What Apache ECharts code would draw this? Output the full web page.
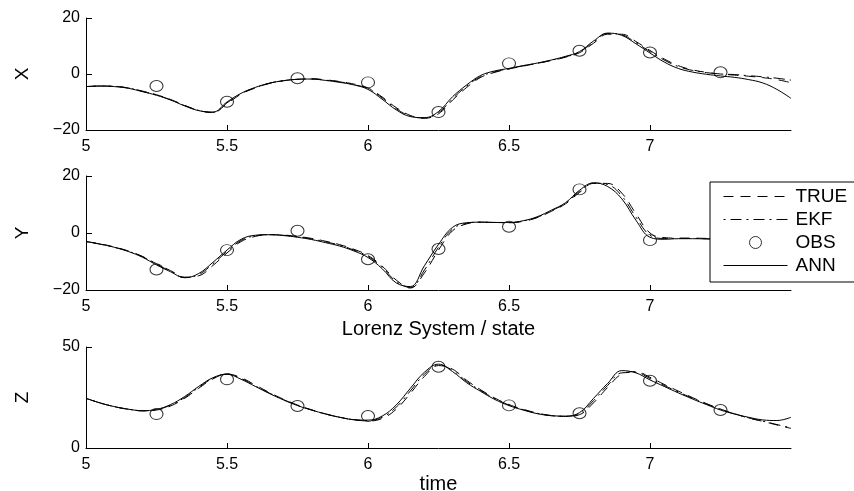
<!DOCTYPE html>
<html><head><meta charset="utf-8">
<script src="https://cdn.jsdelivr.net/npm/echarts@6/dist/echarts.min.js"></script>
<style>html,body{margin:0;padding:0;background:#fff}#c{width:854px;height:491px}</style>
</head><body><div id="c"></div>
<script>
const time = [5.00,5.05,5.10,5.15,5.20,5.25,5.30,5.35,5.40,5.45,
5.50,5.55,5.60,5.65,5.70,5.75,5.80,5.85,5.90,5.95,
6.00,6.05,6.10,6.15,6.20,6.25,6.30,6.35,6.40,6.45,
6.50,6.55,6.60,6.65,6.70,6.75,6.80,6.85,6.90,6.95,
7.00,7.05,7.10,7.15,7.20,7.25,7.30,7.35,7.40,7.45,7.50];

const xAnn = [-4.5,-4.3,-4.5,-5.1,-6.3,-7.6,-9.3,-11.4,-13.1,-13.6,
-10.0,-6.9,-4.8,-3.3,-2.4,-1.9,-1.8,-2.3,-3.0,-3.9,
-5.5,-9.0,-12.8,-15.2,-15.6,-13.4,-8.1,-3.9,-0.5,1.1,
2.0,3.0,3.9,5.0,6.3,8.0,11.8,14.6,13.8,10.8,
7.5,4.3,2.0,0.7,-0.1,-0.7,-1.2,-2.0,-3.2,-5.5,-8.7];
const xTrue = [-4.5,-4.3,-4.4,-5.0,-6.1,-7.4,-9.1,-11.2,-13.0,-13.8,
-10.6,-7.2,-5.0,-3.4,-2.4,-1.9,-1.7,-2.1,-2.7,-3.6,
-5.0,-8.2,-12.0,-14.8,-15.8,-14.2,-9.3,-4.8,-1.2,0.6,
1.8,2.8,3.8,4.8,6.0,7.6,11.0,14.2,14.2,11.6,
8.4,5.4,3.0,1.5,0.6,0.0,-0.4,-0.8,-1.3,-2.0,-3.1];
const xEkf = [-4.5,-4.3,-4.4,-5.0,-6.2,-7.5,-9.2,-11.3,-13.0,-13.7,
-10.3,-7.0,-4.9,-3.3,-2.4,-1.9,-1.8,-2.2,-2.8,-3.8,
-5.2,-8.5,-12.4,-15.0,-15.7,-13.8,-8.8,-4.3,-0.9,0.8,
1.9,2.9,3.8,4.9,6.1,7.8,11.4,14.5,14.0,11.2,
8.0,5.0,2.7,1.3,0.5,0.0,-0.2,-0.6,-1.0,-1.5,-2.2];

const yAnn = [-3.0,-3.9,-5.0,-6.5,-8.5,-11.2,-13.6,-15.7,-14.2,-10.3,
-6.0,-2.2,-0.8,-0.6,-0.9,-1.5,-2.3,-3.4,-4.6,-6.3,
-8.6,-12.5,-17.5,-18.8,-11.5,-4.0,2.0,3.6,3.8,3.7,
3.7,4.3,5.7,8.0,10.6,15.0,17.6,16.3,12.0,4.5,
-1.5,-2.2,-2.0,-2.0,-2.1,-2.3,-2.5,-2.8,-3.2,-3.7,-4.3];
const yTrue = [-3.0,-3.8,-4.9,-6.3,-8.2,-10.8,-13.2,-15.5,-15.0,-11.4,
-7.0,-3.0,-1.2,-0.6,-0.7,-1.2,-1.9,-2.9,-4.1,-5.7,
-7.9,-11.6,-16.5,-19.3,-14.0,-6.0,0.8,3.2,3.8,3.7,
3.6,4.1,5.4,7.6,10.2,14.2,17.4,17.4,14.0,6.8,
0.0,-1.6,-1.8,-1.8,-1.9,-2.0,-2.1,-2.3,-2.5,-2.8,-3.1];
const yEkf = [-3.0,-3.9,-5.0,-6.4,-8.3,-11.0,-13.4,-15.6,-14.6,-10.8,
-6.5,-2.6,-1.0,-0.6,-0.8,-1.3,-2.1,-3.1,-4.3,-6.0,
-8.2,-12.0,-17.0,-19.1,-13.0,-5.0,1.4,3.4,3.8,3.7,
3.6,4.2,5.5,7.8,10.4,14.6,17.5,17.0,13.0,5.6,
-0.8,-1.9,-1.9,-1.9,-2.0,-2.1,-2.3,-2.5,-2.8,-3.1,-3.5];

const zAnn = [24.6,22.3,20.5,19.2,18.5,19.1,21.5,25.5,30.5,34.8,
36.5,34.0,30.5,27.0,23.8,21.0,18.8,16.8,15.2,14.0,
13.8,15.8,21.3,29.5,37.5,41.5,37.8,32.3,28.0,24.0,
21.0,18.8,17.0,16.0,15.8,17.5,24.6,32.0,38.3,37.2,
33.7,30.5,27.3,24.3,21.5,18.8,16.8,15.2,13.9,13.6,15.2];
const zTrue = [24.6,22.3,20.5,19.2,18.4,18.8,20.8,24.6,29.6,34.2,
36.6,34.8,31.2,27.5,24.2,21.3,18.9,16.9,15.2,14.0,
13.4,14.6,19.2,27.0,35.4,40.8,39.0,33.5,28.8,24.7,
21.5,19.2,17.3,16.1,15.6,16.5,22.4,30.0,36.6,37.8,
35.0,31.5,28.2,25.0,22.0,19.3,17.0,14.8,13.2,11.4,9.7];
const zEkf = [24.6,22.3,20.5,19.2,18.4,19.0,21.2,25.0,30.0,34.5,
36.6,34.4,30.8,27.2,24.0,21.1,18.8,16.8,15.2,14.0,
13.6,15.2,20.2,28.2,36.5,41.2,38.4,32.9,28.4,24.4,
21.3,19.0,17.2,16.0,15.7,17.0,23.5,31.0,37.2,37.4,
34.4,31.0,27.8,24.7,21.8,19.1,16.9,14.9,13.3,11.6,10.0];

const obsTime = [5.25,5.5,5.75,6.0,6.25,6.5,6.75,7.0,7.25];
const obsX = [-4.3,-9.9,-1.5,-3.0,-13.6,3.8,8.3,7.7,0.6];
const obsY = [-12.8,-6.0,0.8,-9.2,-5.6,2.2,15.3,-2.5,-2.0];
const obsZ = [16.8,34.0,20.8,15.8,40.2,21.1,17.2,33.3,18.8];

const xTicks = [5, 5.5, 6, 6.5, 7];
const legendNames = ['TRUE', 'EKF', 'OBS', 'ANN'];
const panelNames = ['X', 'Y', 'Z'];
const xAxisNames = ['', 'Lorenz System / state', 'time'];

const FONT = "'Liberation Sans', Arial, sans-serif";
const pairs = (ts, vs) => ts.map((t, i) => [t, vs[i]]);

const grids = [
  {left: 86, right: 63, top: 18, height: 112, outerBoundsMode: 'none', containLabel: false},
  {left: 86, right: 63, top: 176, height: 114, outerBoundsMode: 'none', containLabel: false},
  {left: 86, right: 63, top: 347, height: 101, outerBoundsMode: 'none', containLabel: false}
];
const yRanges = [[-20, 20, 20], [-20, 20, 20], [0, 50, 50]];
const nameGaps = [0, 29, 26];

const xAxes = grids.map((g, i) => ({
  type: 'value', gridIndex: i, min: 5, max: 7.5, interval: 0.5,
  name: xAxisNames[i], nameLocation: 'middle', nameGap: nameGaps[i],
  nameTextStyle: {fontFamily: FONT, fontSize: 20, color: '#000'},
  axisLine: {show: true, onZero: false, lineStyle: {color: '#000', width: 1}},
  axisTick: {show: true, inside: true, length: 5, customValues: xTicks, lineStyle: {color: '#000'}},
  axisLabel: {customValues: xTicks, margin: 9, fontFamily: FONT, fontSize: 16, color: '#000'},
  splitLine: {show: false}
}));
const yAxes = grids.map((g, i) => ({
  type: 'value', gridIndex: i, min: yRanges[i][0], max: yRanges[i][1], interval: yRanges[i][2],
  name: panelNames[i], nameLocation: 'middle', nameRotate: 90, nameGap: 54,
  nameTextStyle: {fontFamily: FONT, fontSize: 19, color: '#000'},
  axisLine: {show: true, lineStyle: {color: '#000', width: 1}},
  axisTick: {show: true, inside: true, length: 6, lineStyle: {color: '#000'}},
  axisLabel: {margin: 6, fontFamily: FONT, fontSize: 16, color: '#000',
    formatter: v => String(v).replace('-', '\u2212')},
  splitLine: {show: false}
}));

const comps = [[xTrue, xEkf, xAnn, obsX], [yTrue, yEkf, yAnn, obsY], [zTrue, zEkf, zAnn, obsZ]];
const series = [];
comps.forEach((c, i) => {
  const line = (name, data, type) => ({
    name, type: 'line', xAxisIndex: i, yAxisIndex: i, data: pairs(time, data),
    symbol: 'none', smooth: 0.4, silent: true, color: '#000',
    itemStyle: {color: '#000'},
    lineStyle: {color: '#000', width: 1, type}
  });
  series.push(line('TRUE', c[0], [10, 7]));
  series.push(line('EKF', c[1], [2, 5, 11, 5]));
  series.push({
    name: 'OBS', type: 'scatter', xAxisIndex: i, yAxisIndex: i, data: pairs(obsTime, c[3]),
    symbol: 'circle', symbolSize: [13, 11], silent: true, color: '#000',
    itemStyle: {color: 'rgba(0,0,0,0)', borderColor: '#000', borderWidth: 1}
  });
  series.push(line('ANN', c[2], 'solid'));
});

const hiddenSym = {opacity: 0};
const chart = echarts.init(document.getElementById('c'), null, {renderer: 'canvas'});
chart.setOption({
  animation: false,
  backgroundColor: '#fff',
  grid: grids,
  xAxis: xAxes,
  yAxis: yAxes,
  legend: {
    data: [
      {name: legendNames[0], itemStyle: hiddenSym, lineStyle: {width: 1, color: '#000', type: [10, 7]}},
      {name: legendNames[1], itemStyle: hiddenSym, lineStyle: {width: 1, color: '#000', type: [2, 5, 11, 5]}},
      {name: legendNames[2], icon: 'circle', itemStyle: {color: 'rgba(0,0,0,0)', borderColor: '#000', borderWidth: 1}},
      {name: legendNames[3], itemStyle: hiddenSym, lineStyle: {width: 1, color: '#000', type: 'solid'}}
    ],
    orient: 'vertical', left: 710, top: 182,
    itemWidth: 64, itemHeight: 12, itemGap: 4,
    padding: [5, 14, 7, 13],
    backgroundColor: '#fff', borderColor: '#000', borderWidth: 1,
    textStyle: {fontFamily: FONT, fontSize: 19, color: '#000', padding: [0, 0, 0, 3]},
    selectedMode: false
  },
  series
});
</script></body></html>
